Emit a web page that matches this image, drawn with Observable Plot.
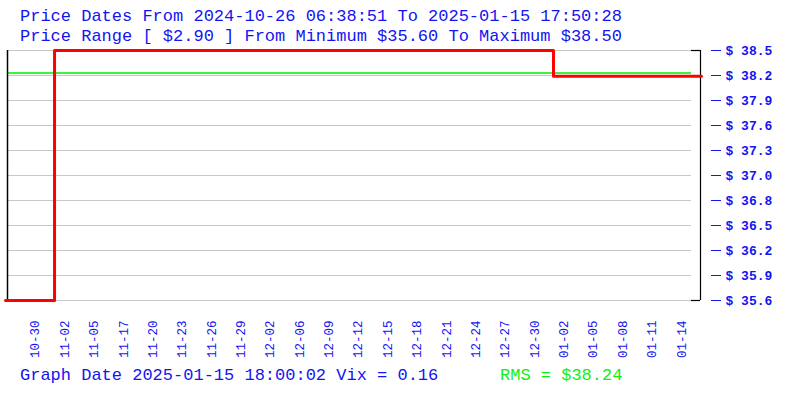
<!DOCTYPE html>
<html>
<head>
<meta charset="utf-8">
<script src="https://cdn.jsdelivr.net/npm/d3@7"></script>
<script src="https://cdn.jsdelivr.net/npm/@observablehq/plot@0.6"></script>
<style>
  html, body { margin: 0; padding: 0; background: #fff; }
  #wrap { position: relative; width: 800px; height: 400px; overflow: hidden; }
  .t { position: absolute; font-family: "Liberation Mono", monospace; font-size: 17px; line-height: 1; white-space: pre; color: #1414f0; }
  #chart { position: absolute; left: 0; top: 0; }
</style>
</head>
<body>
<div id="wrap">
  <div id="chart"></div>
  <div class="t" id="t1" style="left:20px; top:8px;"></div>
  <div class="t" id="t2" style="left:20px; top:28px;"></div>
  <div class="t" id="b1" style="left:20px; top:367px;"></div>
  <div class="t" id="b2" style="left:500px; top:367px; color:#11ee11;"></div>
</div>
<script>
// ---- data ----
const titleLine1 = "Price Dates From 2024-10-26 06:38:51 To 2025-01-15 17:50:28";
const titleLine2 = "Price Range [ $2.90 ] From Minimum $35.60 To Maximum $38.50";
const footerLeft = "Graph Date 2025-01-15 18:00:02 Vix = 0.16";
const footerRight = "RMS = $38.24";

const xLabels = ["10-30","11-02","11-05","11-17","11-20","11-23","11-26","11-29","12-02","12-06","12-09","12-12","12-15","12-18","12-21","12-24","12-27","12-30","01-02","01-05","01-08","01-11","01-14"];

// price series: observation position (in label-slot units) and price
const obsPos = [-1.02, 0.65, 17.64, 22.68];
const obsPrice = [35.60, 38.50, 38.20, 38.20];

const priceMin = 35.60;
const priceMax = 38.50;
const rmsPrice = 38.24;
const yTickLabels = ["35.6","35.9","36.2","36.5","36.8","37.0","37.3","37.6","37.9","38.2","38.5"];

// ---- build ----
document.getElementById("t1").textContent = titleLine1;
document.getElementById("t2").textContent = titleLine2;
document.getElementById("b1").textContent = footerLeft;
document.getElementById("b2").textContent = footerRight;

const series = obsPos.map((p, i) => ({pos: p, price: obsPrice[i]}));
const yTicks = yTickLabels.map((_, i) => priceMin + i * (priceMax - priceMin) / (yTickLabels.length - 1));
const xTicks = xLabels.map((_, i) => i);
const xDomain = [obsPos[0], obsPos[obsPos.length - 1]];
const blue = "#1414f0";
const font = "Liberation Mono, monospace";

const chart = Plot.plot({
  width: 800,
  height: 400,
  marginLeft: 5,
  marginRight: 99,
  marginTop: 50,
  marginBottom: 100,
  style: {background: "transparent", fontFamily: font},
  x: {domain: xDomain},
  y: {domain: [priceMin, priceMax]},
  marks: [
    Plot.ruleY(yTicks, {stroke: "#c8c8c8", strokeWidth: 1, insetLeft: 2, insetRight: 10}),
    Plot.ruleY([rmsPrice], {stroke: "#00ee00", strokeWidth: 1.5, insetLeft: 2, insetRight: 10}),
    Plot.ruleX([xDomain[0]], {stroke: "#000", strokeWidth: 1.5, dx: 2}),
    Plot.ruleX([xDomain[1]], {stroke: "#000", strokeWidth: 1.2, dx: -1}),
    Plot.ruleY([priceMin, priceMax], {stroke: "#000", strokeWidth: 1.2, insetLeft: 686, insetRight: 1}),
    Plot.line(series, {x: "pos", y: "price", curve: "step-after", stroke: "#ff0000", strokeWidth: 3}),
    Plot.axisY(yTicks, {
      anchor: "right", tickSize: 10, tickPadding: 5, dx: 9,
      tickFormat: (d, i) => "$ " + yTickLabels[i],
      color: blue, fontSize: 13, fontWeight: "bold", fontFamily: font, label: null
    }),
    Plot.axisX(xTicks, {
      anchor: "bottom", tickSize: 0, tickPadding: 20, tickRotate: -90,
      tickFormat: (d) => xLabels[d],
      color: blue, fontSize: 12.5, fontFamily: font, label: null
    })
  ]
});
document.getElementById("chart").appendChild(chart);
</script>
</body>
</html>
